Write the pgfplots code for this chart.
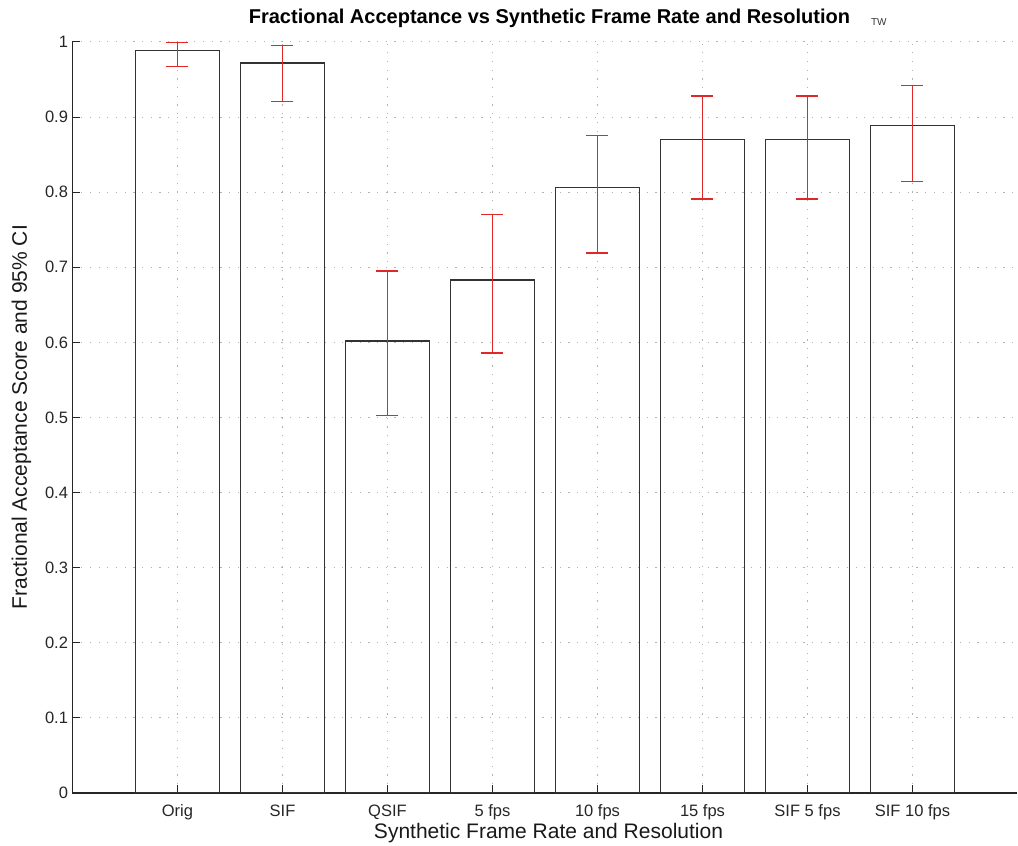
\documentclass[border=0pt]{standalone}
\usepackage{pgfplots}
\pgfplotsset{compat=1.18}
\usepackage{pgfplotstable}
\usepackage{fontspec}
\setmainfont{Liberation Sans}
\definecolor{errred}{RGB}{225,40,40}
\pgfplotstableread{
x y ep em
1 0.989 0.010 0.022
2 0.972 0.023 0.051
3 0.602 0.093 0.099
4 0.683 0.087 0.097
5 0.806 0.070 0.087
6 0.870 0.058 0.079
7 0.870 0.058 0.079
8 0.889 0.053 0.075
}\data
\begin{document}
\begin{tikzpicture}
\useasboundingbox (-72.5pt,-53pt) rectangle (945.5pt,793pt);
\begin{axis}[
  anchor=south west,
  scale only axis, width=945pt, height=751pt,
  xmin=0, xmax=9, ymin=0, ymax=1,
  axis x line*=bottom, axis y line*=left,
  axis line style={black!85, line width=1.3pt},
  xtick={1,...,8},
  xticklabels={Orig,SIF,QSIF,5 fps,10 fps,15 fps,SIF 5 fps,SIF 10 fps},
  ytick={0,0.1,...,1.0},
  yticklabels={0,0.1,0.2,0.3,0.4,0.5,0.6,0.7,0.8,0.9,1},
  tick align=inside, major tick length=8pt,
  tick style={black!85, line width=1pt},
  tick label style={font=\fontsize{16.5}{18}\selectfont, text=black!85},
  xticklabel style={yshift=-8pt},
  yticklabel style={xshift=-1pt},
  grid=major,
  grid style={gray!60, dash pattern=on 1.2pt off 7.5pt, line width=1pt},
  /pgf/number format/assume math mode=true,
]
\addplot[ybar, bar width=0.8, fill=none, draw=black!80, line width=1.3pt]
  table[x=x, y=y] {\data};
\addplot[draw=none, mark=none, forget plot,
  error bars/.cd, y dir=both, y explicit,
  error bar style={draw=errred, line width=1pt, solid},
  error mark options={draw=errred, line width=1.2pt, mark size=11pt, rotate=90, solid}]
  table[x=x, y=y, y error plus=ep, y error minus=em] {\data};
\end{axis}
\node[font=\bfseries\fontsize{20}{22}\selectfont, text=black] at (477pt,775pt) {Fractional Acceptance vs Synthetic Frame Rate and Resolution};
\node[font=\fontsize{10}{11}\selectfont, text=black!80, anchor=west] at (795pt,771pt) {TW};
\node[font=\fontsize{21}{23}\selectfont, text=black!90] at (476pt,-40pt) {Synthetic Frame Rate and Resolution};
\node[font=\fontsize{21}{23}\selectfont, text=black!90, rotate=90] at (-51pt,376pt) {Fractional Acceptance Score and 95\% CI};
\end{tikzpicture}
\end{document}
